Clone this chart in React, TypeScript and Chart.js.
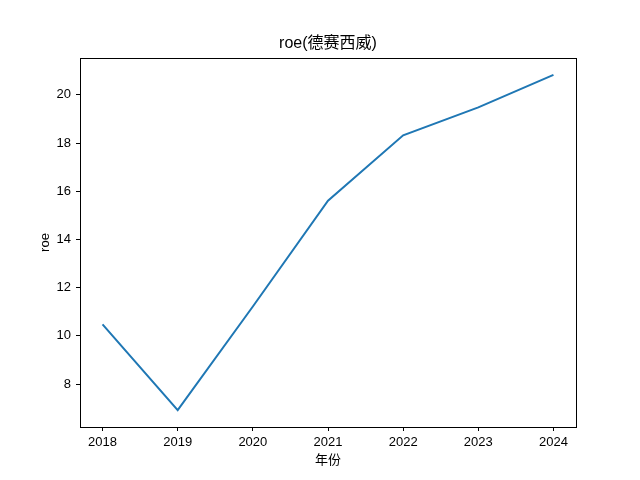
import React, { useEffect, useRef } from "react";
import { Chart, registerables } from "chart.js";

Chart.register(...registerables);

const years = [2018, 2019, 2020, 2021, 2022, 2023, 2024];
const roe = [10.48, 6.92, 11.22, 15.61, 18.32, 19.48, 20.83];
const yTicks = [8, 10, 12, 14, 16, 18, 20];
const titleText = "roe(德赛西威)";
const xLabel = "年份";
const yLabel = "roe";

const FONT = "'Liberation Sans', 'Noto Sans CJK SC', sans-serif";

export default function App() {
  const ref = useRef<HTMLCanvasElement | null>(null);
  useEffect(() => {
    if (!ref.current) return;
    const textPlugin = {
      id: "texts",
      afterDraw(chart: any) {
        const { ctx, chartArea } = chart;
        ctx.save();
        ctx.strokeStyle = "#000";
        ctx.lineWidth = 1;
        ctx.strokeRect(
          Math.round(chartArea.left) + 0.5,
          Math.round(chartArea.top) + 0.5,
          Math.round(chartArea.right - chartArea.left),
          Math.round(chartArea.bottom - chartArea.top)
        );
        ctx.fillStyle = "#000";
        ctx.textAlign = "center";
        ctx.textBaseline = "middle";
        const cx = (chartArea.left + chartArea.right) / 2;
        ctx.font = `16px ${FONT}`;
        ctx.fillText(titleText, cx, 44);
        ctx.font = `13px ${FONT}`;
        ctx.fillText(xLabel, cx, 460);
        ctx.translate(45, (chartArea.top + chartArea.bottom) / 2);
        ctx.rotate(-Math.PI / 2);
        ctx.fillText(yLabel, 0, 0);
        ctx.restore();
      },
    };
    const chart = new Chart(ref.current, {
      type: "line",
      data: {
        datasets: [
          {
            data: years.map((y, i) => ({ x: y, y: roe[i] })),
            borderColor: "#1f77b4",
            borderWidth: 2,
            pointRadius: 0,
            tension: 0,
            fill: false,
          },
        ],
      },
      options: {
        animation: false,
        responsive: false,
        layout: { padding: { left: 0, right: 64, top: 58, bottom: 0 } },
        plugins: { legend: { display: false }, title: { display: false }, tooltip: { enabled: false } },
        scales: {
          x: {
            type: "linear",
            min: 2017.7,
            max: 2024.3,
            afterBuildTicks: (s: any) => {
              s.ticks = years.map((v) => ({ value: v }));
            },
            afterFit: (s: any) => {
              s.height = 53;
            },
            grid: { display: true, drawOnChartArea: false, drawTicks: true, tickLength: 4, tickColor: "#000" },
            border: { display: true, color: "#000" },
            ticks: {
              color: "#000",
              font: { family: FONT, size: 13 },
              padding: 4,
              maxRotation: 0,
              autoSkip: false,
              callback: (v: any) => String(v),
            },
          },
          y: {
            type: "linear",
            min: 6.22,
            max: 21.53,
            afterBuildTicks: (s: any) => {
              s.ticks = yTicks.map((v) => ({ value: v }));
            },
            afterFit: (s: any) => {
              s.width = 80;
            },
            grid: { display: true, drawOnChartArea: false, drawTicks: true, tickLength: 4, tickColor: "#000" },
            border: { display: true, color: "#000" },
            ticks: {
              color: "#000",
              font: { family: FONT, size: 13 },
              padding: 5,
              autoSkip: false,
              callback: (v: any) => String(v),
            },
          },
        },
      },
      plugins: [textPlugin],
    } as any);
    return () => chart.destroy();
  }, []);
  return (
    <div style={{ position: "fixed", left: 0, top: 0, width: 640, height: 480, background: "#fff" }}>
      <canvas ref={ref} width={640} height={480} style={{ width: 640, height: 480 }} />
    </div>
  );
}
